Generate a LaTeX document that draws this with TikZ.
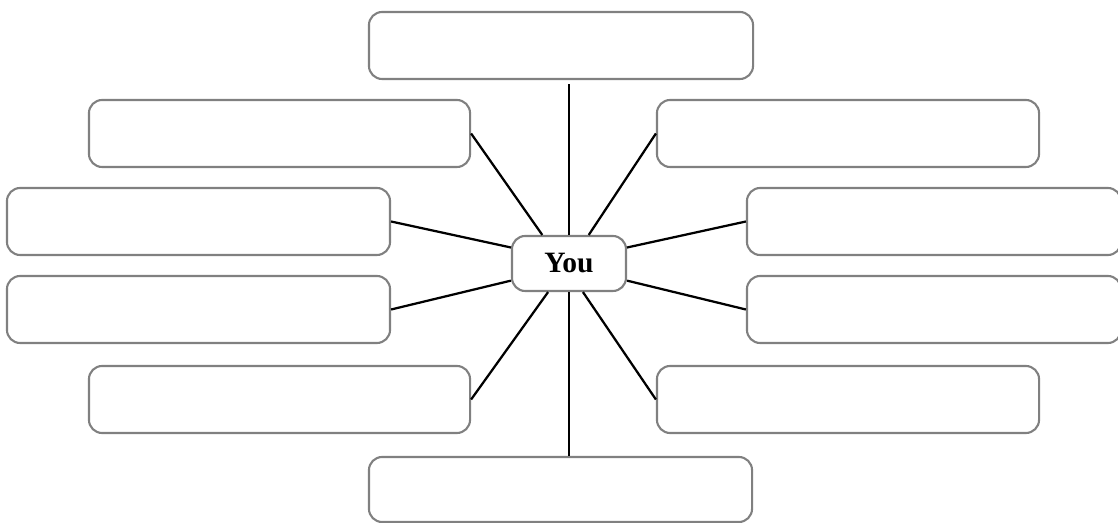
\documentclass[tikz,border=0pt]{standalone}
\usepackage{fontspec}
\setmainfont{Liberation Serif}
\usetikzlibrary{positioning, calc}

\definecolor{boxgray}{HTML}{808080}

\tikzset{
    answer/.style={draw=boxgray, line width=1.5pt, rounded corners=0.33cm,
        minimum height=1.675cm, inner sep=0pt, fill=white},
    spoke/.style={line width=1.6pt}
}

\begin{document}
\begin{tikzpicture}[x=0.025cm, y=-0.025cm]

    \useasboundingbox (0,0) rectangle (1118,523);

    % Centre node
    \node[answer, minimum width=2.85cm, minimum height=1.375cm,
         font=\fontsize{21}{25}\selectfont\bfseries] (you) at (569,263.5) {You};

    % Empty boxes around it
    \node[answer, minimum width=9.6cm]  (top)    at (561,45.5)   {};
    \node[answer, minimum width=9.525cm] (l1)    at (279.5,133.5) {};
    \node[answer, minimum width=9.55cm] (r1)     at (848,133.5)  {};
    \node[answer, minimum width=9.575cm] (l2)    at (198.5,221.5) {};
    \node[answer, minimum width=9.35cm] (r2)     at (934,221.5)  {};
    \node[answer, minimum width=9.575cm] (l3)    at (198.5,309.5) {};
    \node[answer, minimum width=9.35cm] (r3)     at (934,309.5)  {};
    \node[answer, minimum width=9.525cm] (l4)    at (279.5,399.5) {};
    \node[answer, minimum width=9.55cm] (r4)     at (848,399.5)  {};
    \node[answer, minimum width=9.575cm, minimum height=1.625cm] (bottom) at (560.5,489.5) {};

    % Spokes
    \draw[spoke, shorten >=3] (you.north) -- (you.north |- top.south);
    \draw[spoke] (you.south) -- (you.south |- bottom.north);
    \draw[spoke] (l1.east) -- ($(you.north west)!0.27!(you.north east)$);
    \draw[spoke] (r1.west) -- ($(you.north west)!0.67!(you.north east)$);
    \draw[spoke] (l2.east) -- ($(you.north west)!0.22!(you.south west)$);
    \draw[spoke] (r2.west) -- ($(you.north east)!0.22!(you.south east)$);
    \draw[spoke] (l3.east) -- ($(you.south west)!0.2!(you.north west)$);
    \draw[spoke] (r3.west) -- ($(you.south east)!0.2!(you.north east)$);
    \draw[spoke] (l4.east) -- ($(you.south west)!0.32!(you.south east)$);
    \draw[spoke] (r4.west) -- ($(you.south west)!0.62!(you.south east)$);

\end{tikzpicture}
\end{document}
